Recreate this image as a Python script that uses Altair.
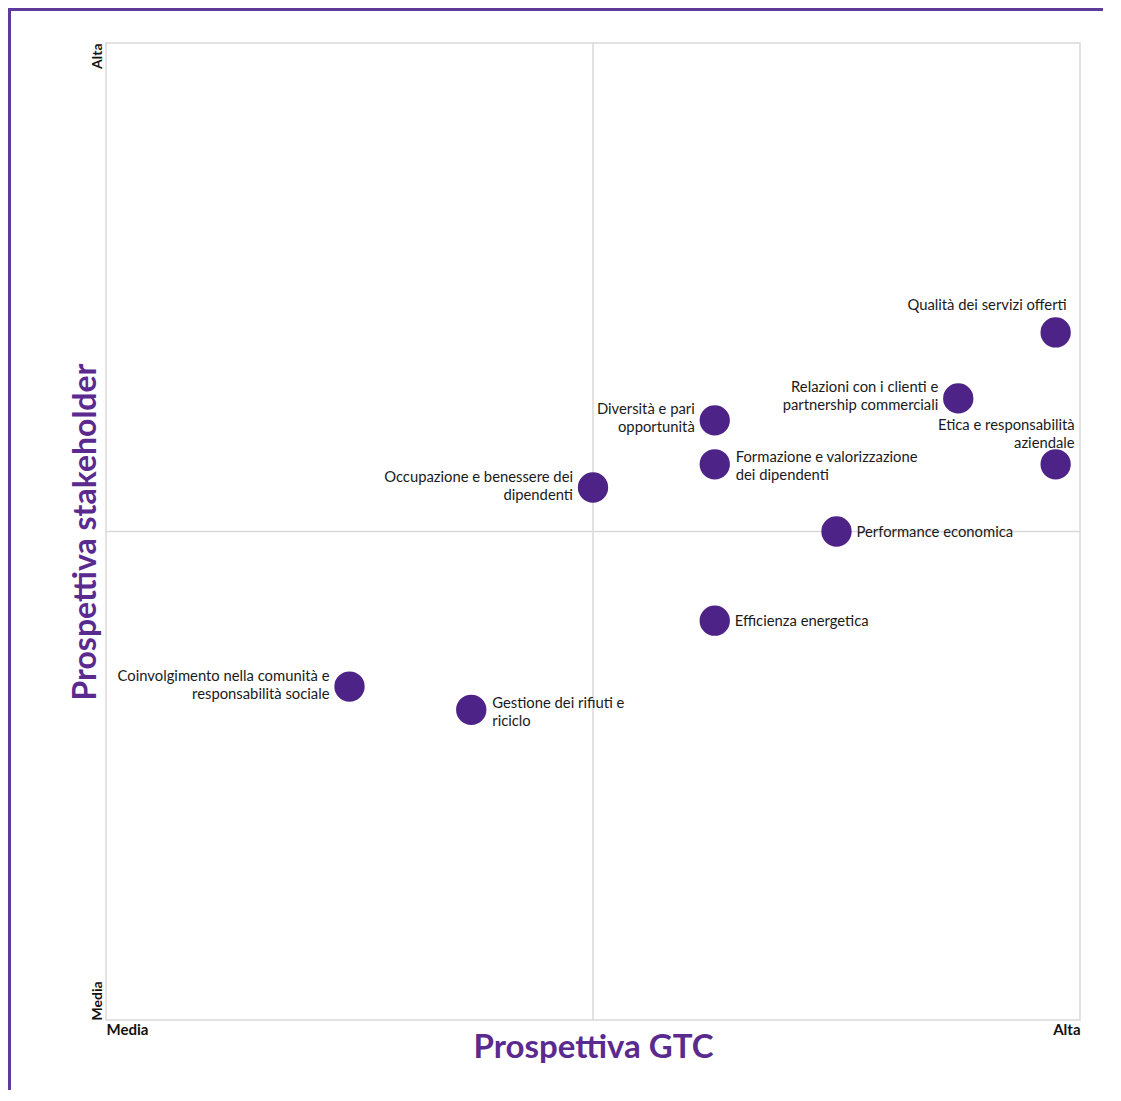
import altair as alt
import pandas as pd

# ---- data ----
temi = [
    "Qualità dei servizi offerti",
    "Relazioni con i clienti e\npartnership commerciali",
    "Diversità e pari\nopportunità",
    "Formazione e valorizzazione\ndei dipendenti",
    "Etica e responsabilità\naziendale",
    "Occupazione e benessere dei\ndipendenti",
    "Performance economica",
    "Efficienza energetica",
    "Coinvolgimento nella comunità e\nresponsabilità sociale",
    "Gestione dei rifiuti e\nriciclo",
]
gtc = [7.8, 7.0, 5.0, 5.0, 7.8, 4.0, 6.0, 5.0, 2.0, 3.0]
stakeholder = [5.63, 5.09, 4.91, 4.55, 4.55, 4.36, 4.0, 3.27, 2.73, 2.54]
lato = ["above", "left", "left", "right", "above", "left", "right", "right", "left", "right"]

assi_valori = [0, 8]
assi_etichette = ["Media", "Alta"]
centro = [4]

df = pd.DataFrame({"tema": temi, "gtc": gtc, "stk": stakeholder, "lato": lato})
mid = pd.DataFrame({"c": centro})

W, H = 974, 977
PURPLE = "#4e2387"
TITLE_PURPLE = "#5a2a8f"
FONT = "Lato"

lab_expr = f"datum.value == 0 ? '{assi_etichette[0]}' : '{assi_etichette[1]}'"

xs = alt.Scale(domain=[0, 8], nice=False, zero=False)
ys = alt.Scale(domain=[0, 8], nice=False, zero=False)

xaxis = alt.Axis(
    values=assi_valori, labelExpr=lab_expr, grid=False, ticks=False, domain=False,
    labelFlush=True, labelFont=FONT, labelFontWeight="bold", labelFontSize=15,
    labelColor="#111111", labelPadding=2,
    title="Prospettiva GTC", titleFont=FONT, titleFontSize=33, titleFontWeight="bold",
    titleColor=TITLE_PURPLE, titleX=W / 2, titleY=37, titleBaseline="alphabetic",
)
yaxis = alt.Axis(
    values=assi_valori, labelExpr=lab_expr, grid=False, ticks=False, domain=False,
    labelAngle=-90,
    labelAlign={"expr": "datum.value == 0 ? 'left' : 'right'"},
    labelBaseline="bottom",
    labelFont=FONT, labelFontWeight="bold", labelFontSize=14,
    labelColor="#111111", labelPadding=2,
    title="Prospettiva stakeholder", titleFont=FONT, titleFontSize=32, titleFontWeight="bold",
    titleColor=TITLE_PURPLE, titleX=-21, titleY=H / 2, titleAngle=-90,
    titleBaseline="middle", titleAlign="center",
)

base = alt.Chart(df)

vline = alt.Chart(mid).mark_rule(color="#d9d9d9", strokeWidth=1.5).encode(
    x=alt.X("c:Q", scale=xs, axis=xaxis)
)
hline = alt.Chart(mid).mark_rule(color="#d9d9d9", strokeWidth=1.5).encode(
    y=alt.Y("c:Q", scale=ys, axis=yaxis)
)

points = base.mark_circle(size=920, opacity=1, color=PURPLE).encode(
    x=alt.X("gtc:Q", scale=xs),
    y=alt.Y("stk:Q", scale=ys),
)

txt_kw = dict(font=FONT, fontSize=14.8, color="#1a1a1a", lineBreak="\n", lineHeight=18,
              baseline="middle")

multi = "indexof(datum.tema, '\\n') >= 0"
single = "indexof(datum.tema, '\\n') < 0"


def labels(side, cond, align, dx, dy):
    return base.transform_filter(alt.datum.lato == side).transform_filter(cond).mark_text(
        align=align, dx=dx, dy=dy, **txt_kw
    ).encode(x=alt.X("gtc:Q", scale=xs), y=alt.Y("stk:Q", scale=ys), text="tema:N")


lbl_layers = [
    labels("left", multi, "right", -20, -10),
    labels("right", multi, "left", 21, -6),
    labels("right", single, "left", 20, 1),
    labels("above", single, "right", 11, -26),
    labels("above", multi, "right", 19, -38),
]

BOTTOM = 70
RIGHT = 23
# decorative page frame (left and top edges)
frame_left = alt.Chart(mid).mark_rule(color="#5e3a9a", strokeWidth=3).encode(
    x=alt.value(-96.5), y=alt.value(-34), y2=alt.value(H + BOTTOM)
)
frame_top = alt.Chart(mid).mark_rule(color="#5e3a9a", strokeWidth=3).encode(
    x=alt.value(-98), x2=alt.value(W + RIGHT), y=alt.value(-33.5)
)

chart = alt.layer(
    vline, hline, points, *lbl_layers, frame_left, frame_top
).properties(
    width=W, height=H,
    autosize=alt.AutoSizeParams(type="none"),
    padding={"left": 98, "top": 35, "right": RIGHT, "bottom": BOTTOM},
).configure_view(
    stroke="#d9d9d9", strokeWidth=1.5
)

chart.save("out.html", embed_options={"renderer": "svg", "actions": False})
